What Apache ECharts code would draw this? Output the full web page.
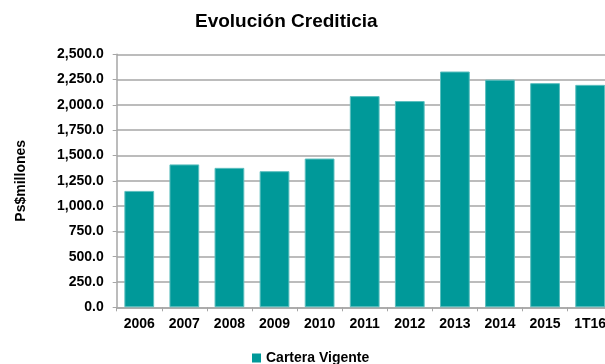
<!DOCTYPE html>
<html><head><meta charset="utf-8">
<script src="https://cdn.jsdelivr.net/npm/echarts@6/dist/echarts.min.js"></script>
<style>html,body{margin:0;padding:0;background:#fff}#c{width:605px;height:364px}</style>
</head><body><div id="c"></div>
<script>
const categories = ['2006','2007','2008','2009','2010','2011','2012','2013','2014','2015','1T16'];
const carteraVigente = [1150, 1412, 1378, 1345, 1470, 2087, 2038, 2330, 2249, 2215, 2198];
const seriesName = 'Cartera Vigente';
const yTicks = { min: 0, max: 2500, interval: 250 };

const font = 'Arial, "Liberation Sans", sans-serif';
const chart = echarts.init(document.getElementById('c'), null, {renderer: 'canvas'});
chart.setOption({
  animation: false,
  title: {
    text: 'Evolución Crediticia', left: 190, top: 7,
    textStyle: {fontFamily: font, fontSize: 19, fontWeight: 'bold', color: '#000'}
  },
  legend: {
    data: [seriesName], left: 247, top: 346, itemWidth: 9, itemHeight: 9,
    icon: 'rect', itemStyle: {borderWidth: 0},
    textStyle: {fontFamily: font, fontSize: 14, fontWeight: 'bold', color: '#000'}
  },
  grid: {left: 116.7, top: 54.3, height: 253, width: 496, containLabel: false, outerBoundsMode: 'none'},
  xAxis: {
    type: 'category', data: categories,
    axisLine: {lineStyle: {color: '#a6a6a6', width: 1.5}},
    axisTick: {show: true, length: 4, lineStyle: {color: '#a6a6a6'}},
    axisLabel: {fontFamily: font, fontSize: 14, fontWeight: 'bold', color: '#000', margin: 10}
  },
  yAxis: {
    type: 'value', min: yTicks.min, max: yTicks.max, interval: yTicks.interval,
    name: 'Ps$millones', nameLocation: 'middle', nameGap: 89, nameRotate: 90,
    nameTextStyle: {fontFamily: font, fontSize: 14, fontWeight: 'bold', color: '#000'},
    axisLine: {show: true, lineStyle: {color: '#a6a6a6', width: 1.5}},
    axisTick: {show: true, length: 4, lineStyle: {color: '#a6a6a6'}},
    splitLine: {lineStyle: {color: '#a6a6a6', width: 1.5}},
    axisLabel: {
      fontFamily: font, fontSize: 14, fontWeight: 'bold', color: '#000', margin: 13,
      formatter: v => v.toLocaleString('en-US', {minimumFractionDigits: 1, maximumFractionDigits: 1})
    }
  },
  series: [{
    name: seriesName, type: 'bar', data: carteraVigente, barCategoryGap: '34%',
    itemStyle: {color: '#009999', borderColor: '#5cbfbf', borderWidth: 1}
  }]
});
</script></body></html>
